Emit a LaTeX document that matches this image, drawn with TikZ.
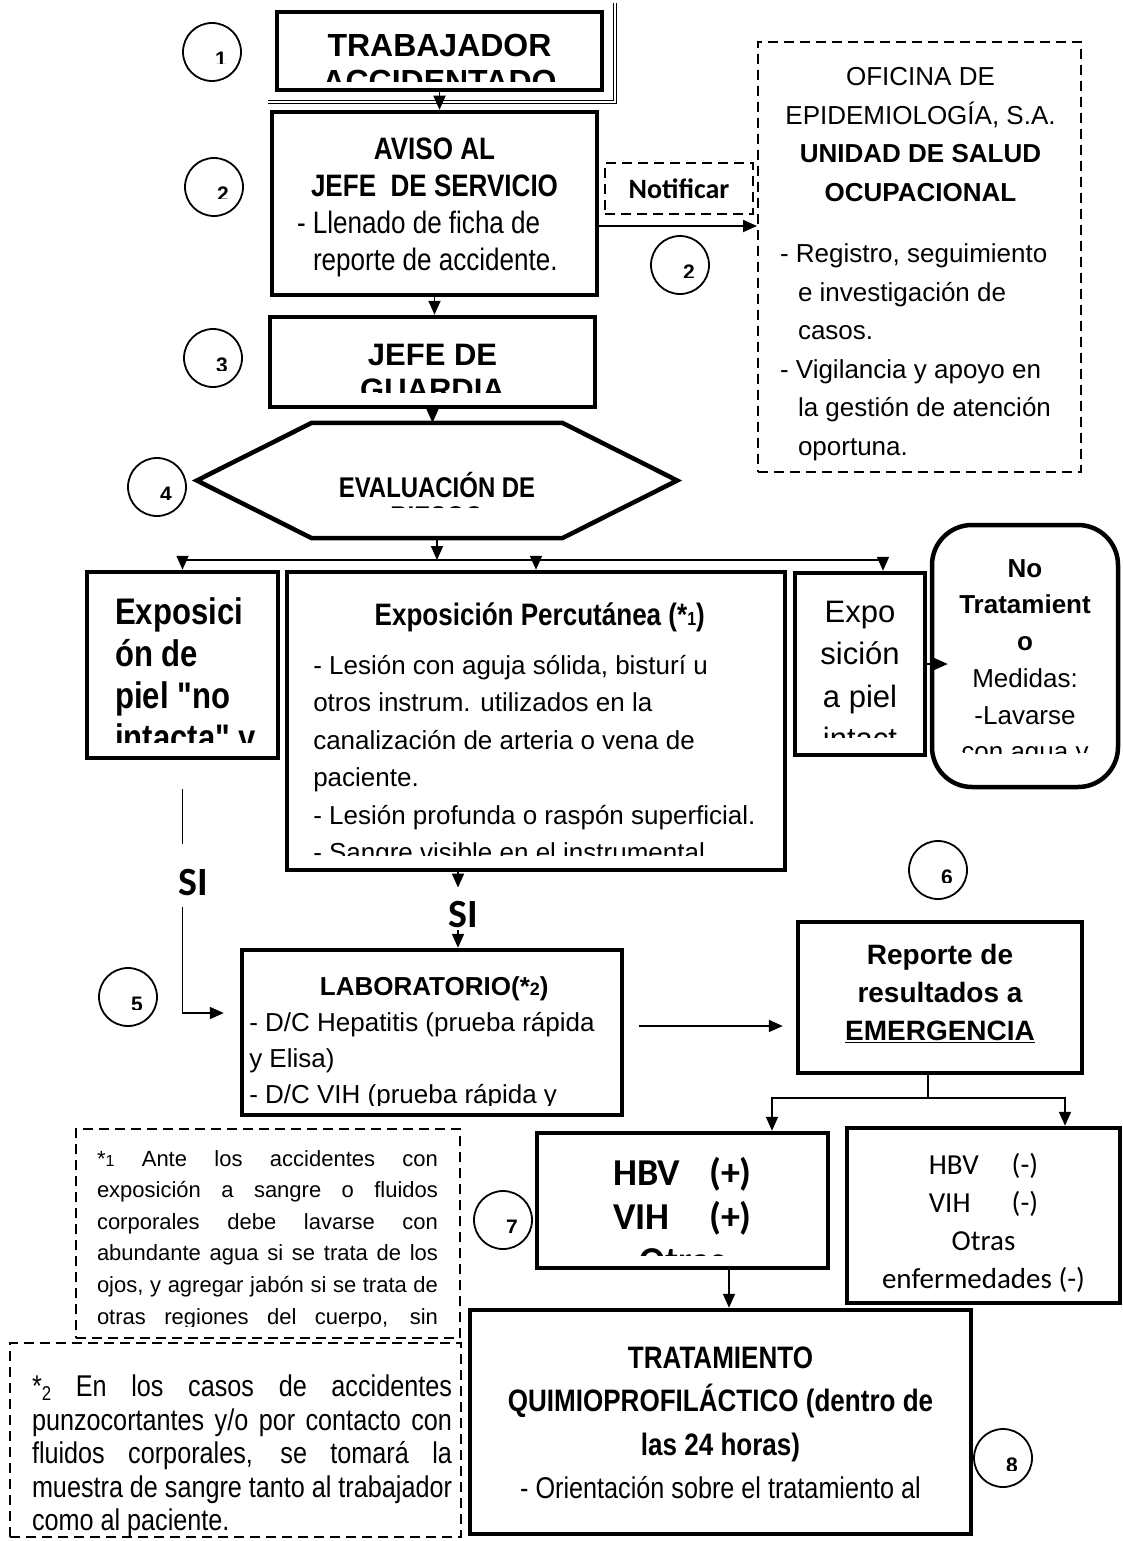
\documentclass[tikz,border=0pt]{standalone}
\usepackage{fontspec}
\setmainfont{Liberation Sans}
\newfontfamily\narrowfont{Liberation Sans}[FakeStretch=0.84]
\newfontfamily\calfont{Carlito}
\usetikzlibrary{arrows.meta, positioning, calc}
\newcommand{\fsz}[2]{\fontsize{#1pt}{#2pt}\selectfont}

\begin{document}
\begin{tikzpicture}[
    x=1pt, y=-1pt,
    box/.style={rectangle, draw, line width=4.5pt},
    dashbox/.style={rectangle, draw, line width=2pt, dash pattern=on 10pt off 6pt},
    numc/.style={circle, draw, line width=1.8pt, minimum size=58pt, inner sep=0pt,
      path picture={\clip ([xshift=-40pt,yshift=-12pt]path picture bounding box.center) rectangle ([xshift=40pt,yshift=40pt]path picture bounding box.center);
        \node[rectangle, draw=none, inner sep=0pt, minimum size=0pt, anchor=north, font=\bfseries\fsz{21}{21}] at ([xshift=9pt,yshift=1pt]path picture bounding box.center) {#1};}},
    cut/.style n args={5}{path picture={\clip ([yshift=#1]path picture bounding box.south west) rectangle (path picture bounding box.north east);
        \node[rectangle, draw=none, inner sep=0pt, minimum width=0pt, minimum height=0pt, anchor=#2, #4] at ([#3]path picture bounding box.#2) {#5};}},
    arrow/.style={-{Triangle[length=14pt,width=12pt]}, line width=1.8pt},
    conn/.style={line width=1.8pt},
    silabel/.style={font=\calfont\bfseries\fsz{40}{40}, inner sep=2pt}
  ]
  \fill[white] (0,0) rectangle (1123,1541);
  \useasboundingbox (0,0) rectangle (1123,1541);

  % top of the chart
  \node[box, line width=4pt, minimum width=325pt, minimum height=78pt,
    cut={8pt}{north}{yshift=-17.8pt}{align=center, font=\bfseries\fsz{32}{36}}{\strut TRABAJADOR\\ACCIDENTADO}] (acc) at (439.5,51) {};
  \draw[line width=1pt, double, double distance=2.5pt] ([xshift=-7pt,yshift=-10pt]acc.south west) -| ([xshift=11pt,yshift=7pt]acc.north east);

  \node[box, minimum width=325pt, minimum height=183pt,
    cut={0pt}{north}{yshift=-19.1pt}{align=center, font=\narrowfont\fsz{31}{37}}{\strut\textbf{AVISO AL}\\\textbf{JEFE\ \ DE SERVICIO}\\\makebox[275pt][l]{- Llenado de ficha de}\\\makebox[275pt][l]{\hspace*{16pt}reporte de accidente.}}] (aviso) at (434.5,203.5) {};

  \node[dashbox, minimum width=148pt, minimum height=51pt, font=\calfont\bfseries\fsz{28}{28}] (notif) at (679,188.5) {Notificar};

  \node[dashbox, minimum width=323pt, minimum height=430pt,
    cut={0pt}{north west}{xshift=21pt,yshift=-16pt}{align=left, font=\fsz{26}{38.5}}{\strut\makebox[281pt]{OFICINA DE}\\\makebox[281pt]{EPIDEMIOLOGÍA, S.A.}\\\makebox[281pt]{\textbf{UNIDAD DE SALUD}}\\\makebox[281pt]{\textbf{OCUPACIONAL}}\\[23pt]- Registro, seguimiento\\\hspace*{18pt}e investigación de\\\hspace*{18pt}casos.\\- Vigilancia y apoyo en\\\hspace*{18pt}la gestión de atención\\\hspace*{18pt}oportuna.}] (ofi) at (919.5,257) {};

  \node[box, minimum width=325pt, minimum height=90pt,
    cut={15pt}{north}{yshift=-21.5pt}{align=center, font=\bfseries\fsz{31}{35}}{\strut JEFE DE\\GUARDIA}] (guardia) at (432.5,362) {};

  % risk evaluation
  \node[minimum width=480pt, minimum height=115pt] (eval) at (437,480.5) {};
  \draw[line width=4.5pt] (eval.west) -- ([xshift=115pt]eval.north west) -- ([xshift=-115pt]eval.north east) -- (eval.east)
    -- ([xshift=-115pt]eval.south east) -- ([xshift=115pt]eval.south west) -- cycle;
  \begin{scope}
    \clip ([yshift=31pt]eval.south west) rectangle (eval.north east);
    \node[anchor=north, inner sep=0pt, align=center, font=\narrowfont\bfseries\fsz{28.5}{29}] (evaltxt) at ([yshift=-49.7pt]eval.north) {\strut EVALUACIÓN DE\\RIESGO};
  \end{scope}

  % kinds of exposure
  \node[box, minimum width=191pt, minimum height=186pt,
    cut={16pt}{north west}{xshift=26pt,yshift=-20.6pt}{align=left, font=\narrowfont\bfseries\fsz{37}{42}}{\strut Exposici\\ón de\\piel "no\\intacta" y}] (expA) at (182.5,665) {};

  \node[box, minimum width=498pt, minimum height=298pt,
    cut={15pt}{north west}{xshift=24pt,yshift=-24.75pt}{align=left, font=\fsz{26}{37.5}}{\strut\makebox[453pt]{\narrowfont\bfseries\fsz{31}{37.5}Exposición Percutánea (*{\fsz{19}{19}1})}\\[11.5pt]- Lesión con aguja sólida, bisturí u\\otros instrum. utilizados en la\\canalización de arteria o vena de\\paciente.\\- Lesión profunda o raspón superficial.\\- Sangre visible en el instrumental}] (expB) at (536,721) {};

  \node[box, minimum width=130pt, minimum height=182pt,
    cut={18pt}{north}{yshift=-17.25pt}{align=center, font=\fsz{31}{42.5}}{\strut Expo\\sición\\a piel\\intact}] (expC) at (860,664) {};

  \node[box, rounded corners=40pt, minimum width=186pt, minimum height=262pt,
    cut={34pt}{north}{yshift=-24.3pt}{align=center, font=\fsz{26}{36.7}}{\strut\textbf{No}\\\textbf{Tratamient}\\\textbf{o}\\Medidas:\\-Lavarse\\con agua y}] (notrat) at (1025,656) {};

  % laboratory and results
  \node[box, minimum width=380pt, minimum height=165pt,
    cut={10pt}{north west}{xshift=5pt,yshift=-17.8pt}{align=left, font=\fsz{26}{36}}{\strut\makebox[370pt]{\textbf{LABORATORIO(*{\fsz{18}{18}2})}}\\- D/C Hepatitis (prueba rápida\\y Elisa)\\- D/C VIH (prueba rápida y}] (lab) at (432,1032.5) {};

  \node[box, minimum width=284pt, minimum height=151pt,
    cut={0pt}{north}{yshift=-13.4pt}{align=center, font=\bfseries\fsz{28}{38}}{\strut Reporte de\\resultados a\\\underline{EMERGENCIA}}] (rep) at (940,997.5) {};

  \node[box, minimum width=291pt, minimum height=135pt,
    cut={13pt}{north}{yshift=-19.2pt}{align=center, font=\calfont\bfseries\fsz{38}{44}}{\strut\makebox[96pt][l]{HBV}(+)\\\makebox[96pt][l]{VIH}(+)\\Otras}] (hbvp) at (682.5,1200.5) {};

  \node[box, minimum width=273pt, minimum height=175pt,
    cut={0pt}{north}{yshift=-17.4pt}{align=center, font=\calfont\fsz{29}{38}}{\strut\makebox[83pt][l]{HBV}(-)\\\makebox[83pt][l]{VIH}(-)\\Otras\\enfermedades (-)}] (hbvm) at (983.5,1215.5) {};

  \node[box, minimum width=501pt, minimum height=224pt,
    cut={19pt}{north}{yshift=-25.5pt}{align=center, font=\narrowfont\fsz{31}{43.5}}{\strut\textbf{TRATAMIENTO}\\\textbf{QUIMIOPROFILÁCTICO (dentro de}\\\textbf{las 24 horas)}\\{\fsz{30}{43.5}- Orientación sobre el tratamiento al}}] (trat) at (720.5,1422) {};

  % footnotes
  \node[dashbox, minimum width=384pt, minimum height=209pt,
    cut={12pt}{north west}{xshift=20pt,yshift=-13.9pt}{align=left, font=\fsz{22}{31.6}}{\strut\makebox[341pt][s]{*{\fsz{16}{16}1} Ante los accidentes con}\\\makebox[341pt][s]{exposición a sangre o fluidos}\\\makebox[341pt][s]{corporales debe lavarse con}\\\makebox[341pt][s]{abundante agua si se trata de los}\\\makebox[341pt][s]{ojos, y agregar jabón si se trata de}\\\makebox[341pt][s]{otras regiones del cuerpo, sin}}] (note1) at (268,1233.5) {};

  \node[dashbox, minimum width=451pt, minimum height=194pt,
    cut={0pt}{north west}{xshift=21pt,yshift=-29.5pt}{align=left, font=\narrowfont\fsz{30}{33.5}}{\strut\makebox[420pt][s]{*\raisebox{-4pt}{\fsz{20}{20}2} En los casos de accidentes}\\\makebox[420pt][s]{punzocortantes y/o por contacto con}\\\makebox[420pt][s]{fluidos corporales, se tomará la}\\\makebox[420pt][s]{muestra de sangre tanto al trabajador}\\como al paciente.}] (note2) at (235.5,1440) {};

  % step numbers
  \node[numc=1] (n1) at (212,52) {};
  \node[numc=2] (n2) at (214,187) {};
  \node[numc=2] (n2b) at (680,265) {};
  \node[numc=3] (n3) at (213,358) {};
  \node[numc=4] (n4) at (157,487) {};
  \node[numc=5] (n5) at (128,997) {};
  \node[numc=6] (n6) at (938,870) {};
  \node[numc=7] (n7) at (503,1220) {};
  \node[numc=8] (n8) at (1003,1458) {};

  \node[silabel] (sileft) at (193,883) {SI};
  \node[silabel] (simid) at (463,915) {SI};

  % connectors
  \draw[arrow] (acc.south) -- (acc.south |- aviso.north);
  \draw[arrow] (aviso.south) -- (aviso.south |- guardia.north);
  \draw[arrow] (guardia.south) -- (guardia.south |- eval.north);
  \draw[arrow] ([yshift=-22.5pt]aviso.east) -- ([yshift=-22.5pt]aviso.east -| ofi.west);

  \coordinate (split1) at (437,560);
  \draw[arrow] (eval.south) -- (split1);
  \draw[arrow] (split1) -| (expA.north);
  \draw[arrow] (split1) -| (expB.north);
  \draw[arrow] (split1) -| ([xshift=23pt]expC.north);
  \draw[arrow] (expC.east) -- ([xshift=18pt]expC.east -| notrat.west);

  \draw[conn, shorten <=29pt, shorten >=24pt] (expA.south) -- (expA.south |- sileft.north);
  \draw[arrow, shorten <=9pt, shorten >=16pt] (expA.south |- sileft.south) |- ([yshift=19.5pt]lab.west);
  \draw[arrow, shorten >=12pt] ([xshift=-78pt]expB.south) -- ([xshift=-78pt]expB.south |- simid.north);
  \draw[arrow] ([xshift=-78pt]expB.south |- simid.south) -- ([xshift=-78pt]expB.south |- lab.north);

  \draw[arrow, shorten <=15pt, shorten >=13pt] ([yshift=6.5pt]lab.east) -- ([yshift=6.5pt]lab.east -| rep.west);
  \coordinate (split2) at (928,1098);
  \draw[conn] ([xshift=-12pt]rep.south) -- (split2);
  \draw[arrow] (split2) -| ([xshift=89.5pt]hbvp.north);
  \draw[arrow] (split2) -| ([xshift=81.5pt]hbvm.north);
  \draw[arrow] ([xshift=46.5pt]hbvp.south) -- ([xshift=46.5pt]hbvp.south |- trat.north);
\end{tikzpicture}
\end{document}
